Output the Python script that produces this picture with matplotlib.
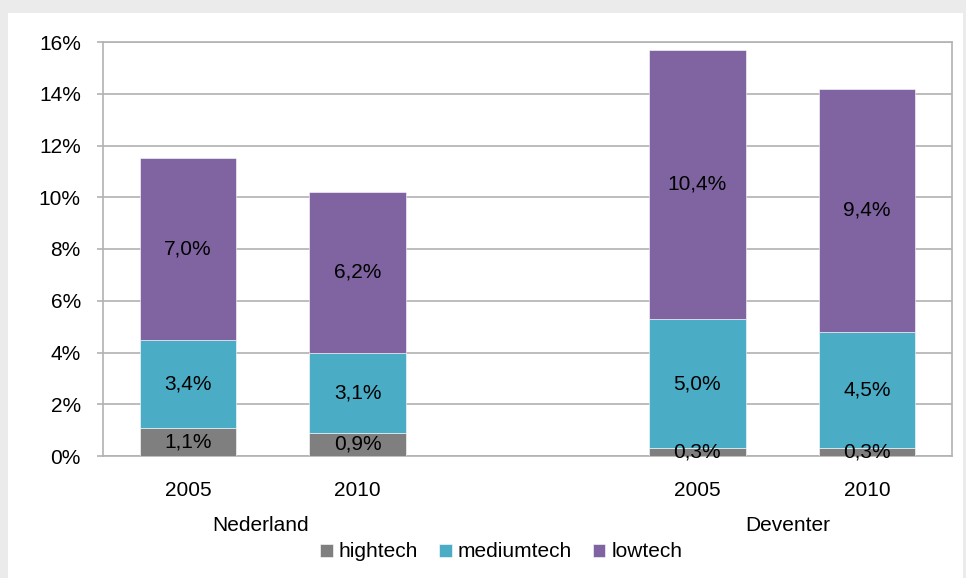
import numpy as np
import matplotlib.pyplot as plt
from matplotlib.patches import Rectangle

plt.rcParams['font.family'] = ['Liberation Sans', 'DejaVu Sans']

years = ['2005', '2010', '2005', '2010']
groups = ['Nederland', 'Deventer']
hightech = [1.1, 0.9, 0.3, 0.3]
mediumtech = [3.4, 3.1, 5.0, 4.5]
lowtech = [7.0, 6.2, 10.4, 9.4]

colors = {'hightech': '#7f7f7f', 'mediumtech': '#4bacc6', 'lowtech': '#8064a2'}
grid_col = '#b2b2b2'

fig = plt.figure(figsize=(9.66, 5.78), dpi=100)
fig.patch.set_facecolor('#ebebeb')
# white panel like the excel chart area
fig.add_artist(Rectangle((8/966, 0), (963-8)/966, 1-13/578, transform=fig.transFigure,
                         facecolor='white', edgecolor='none', zorder=-1))

ax = fig.add_axes([103/966, 1-456/578, (952-103)/966, (456-42)/578])
ax.set_zorder(1)
ax.set_facecolor('white')

x = np.array([0, 1, 3, 4])
w = 0.57
bottom = np.zeros(4)
for name, vals in [('hightech', hightech), ('mediumtech', mediumtech), ('lowtech', lowtech)]:
	bars = ax.bar(x, vals, w, bottom=bottom, color=colors[name], label=name,
	              edgecolor='white', linewidth=0.4, zorder=3)
	labels = [('%.1f%%' % v).replace('.', ',') for v in vals]
	ax.bar_label(bars, labels=labels, label_type='center', fontsize=15, zorder=4)
	bottom = bottom + np.array(vals)

ax.set_xlim(-0.5, 4.5)
ax.set_ylim(0, 16)
ax.set_yticks(np.arange(0, 17, 2))
ax.set_yticklabels(['%d%%' % v for v in range(0, 17, 2)])
ax.yaxis.grid(True, color=grid_col, linewidth=1.2, zorder=0)
ax.set_axisbelow(True)
ax.tick_params(axis='y', labelsize=15, length=4, color=grid_col, width=1.2, pad=12)

ax.set_xticks(x)
ax.set_xticklabels(years)
ax.tick_params(axis='x', labelsize=15, length=0, pad=18)

for s in ax.spines.values():
	s.set_color(grid_col)
	s.set_linewidth(1.2)

# group labels under the years
ax.text(0.43, -0.167, groups[0], transform=ax.get_xaxis_transform(), ha='center', va='center', fontsize=15)
ax.text(3.53, -0.167, groups[1], transform=ax.get_xaxis_transform(), ha='center', va='center', fontsize=15)

fig.legend(loc='center', bbox_to_anchor=(0.519, 0.045), ncol=3, frameon=False, fontsize=15,
           handlelength=0.6, handleheight=0.6, handletextpad=0.3, columnspacing=1.0)

fig.savefig('out.png', dpi=100, facecolor=fig.get_facecolor())
